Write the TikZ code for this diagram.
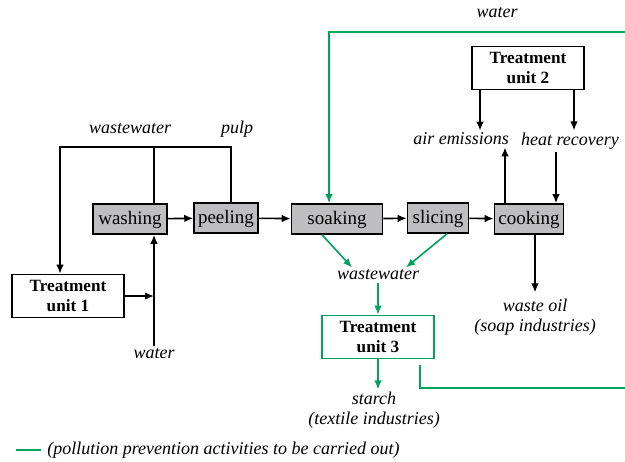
\documentclass[tikz,border=0pt]{standalone}
\usepackage{fontspec}
\setmainfont{Liberation Serif}
\usetikzlibrary{arrows.meta,positioning}
\definecolor{ppgreen}{RGB}{0,163,90}
\definecolor{boxgray}{RGB}{190,190,192}
\tikzset{>={Latex[length=4.5pt,width=3.8pt]}}
\tikzset{mybox/.style={draw, fill=boxgray, line width=0.8pt, minimum height=15pt, inner sep=2pt,
		font=\fontsize{9.5}{11}\selectfont, text height=.75em, text depth=.25em}}
\tikzset{myunit/.style={draw, fill=white, line width=0.8pt, minimum width=56pt, minimum height=21.5pt,
		align=center, inner sep=1pt, font=\fontsize{8.6}{10}\selectfont\bfseries}}
\tikzset{mylabel/.style={inner sep=1pt, align=center, font=\fontsize{9}{10}\selectfont\itshape}}
\tikzset{myline/.style={line width=0.8pt, black}}
\tikzset{mygreen/.style={line width=0.8pt, ppgreen}}

\begin{document}
\begin{tikzpicture}[x=0.5pt, y=-0.5pt]
			\useasboundingbox (0,0) rectangle (625,461);
			% process line
			\node[mybox, minimum width=37pt] (wash) at (130,219) {washing};
			\node[mybox, minimum width=31pt] (peel) at (226,218) {peeling};
			\node[mybox, minimum width=45.5pt] (soak) at (337,219) {soaking};
			\node[mybox, minimum width=30.5pt] (slic) at (438,218) {slicing};
			\node[mybox, minimum width=34.5pt] (cook) at (529,219) {cooking};
			% treatment units
			\node[myunit] (tu1) at (68,296) {Treatment\\unit 1};
			\node[myunit] (tu2) at (528,68) {Treatment\\unit 2};
			\node[myunit, draw=ppgreen] (tu3) at (378,337) {Treatment\\unit 3};
			% labels
			\node[mylabel] (ww1) at (130,129) {wastewater};
			\node[mylabel] (pulp) at (237,129) {pulp};
			\node[mylabel] (water1) at (154,354) {water};
			\node[mylabel] (water2) at (497,13) {water};
			\node[mylabel] (air) at (461,139) {air emissions};
			\node[mylabel] (heat) at (570,141) {heat recovery};
			\node[mylabel] (ww2) at (378,275) {wastewater};
			\node[mylabel] (oil) at (535,317) {waste oil\\(soap industries)};
			\node[mylabel] (starch) at (374,410) {starch\\(textile industries)};
			\node[mylabel, anchor=west] (leg) at (45,450) {(pollution prevention activities to be carried out)};
			% helper points
			\coordinate (jL) at (60,147);
			\coordinate (wx) at (154,0);
			\coordinate (ax) at (480,0);
			\coordinate (hx) at (574,0);
			\coordinate (cx1) at (505,0);
			\coordinate (cx2) at (556,0);
			\coordinate (tp) at (625,32);
			\coordinate (rt) at (625,388);
			
			\draw[myline, ->] (wash) -- (peel);
			\draw[myline, ->] (peel) -- (soak);
			\draw[myline, ->] (soak) -- (slic);
			\draw[myline, ->] (slic) -- (cook);
			\draw[myline, ->] ([xshift=2.5pt]peel.north) |- (jL) -- (jL |- tu1.north);
			\draw[myline] (wash.north -| wx) -- (wx |- jL);
			\draw[myline, ->] (water1.north -| wx) -- (wash.south -| wx);
			\draw[myline, ->] (tu1.east) -- (tu1.east -| wx);
			\draw[myline, ->] (tu2.south -| ax) -- (air.north -| ax);
			\draw[myline, ->] (tu2.south -| hx) -- (heat.north -| hx);
			\draw[myline, ->] (cook.north -| cx1) -- (air.south -| cx1);
			\draw[myline, ->] (heat.south -| cx2) -- (cook.north -| cx2);
			\draw[myline, ->] (cook.south -| oil) -- ([yshift=2pt]oil.north);
			% green flows
			\draw[mygreen, ->] (tp) -| ([xshift=-4pt]soak.north);
			\draw[mygreen, ->] ([xshift=-7.5pt]soak.south) -- ([xshift=-13pt]ww2.north);
			\draw[mygreen, ->] ([xshift=4.5pt]slic.south) -- ([xshift=14pt]ww2.north);
			\draw[mygreen, ->] (ww2.south) -- (tu3.north);
			\draw[mygreen, ->] (tu3.south) -- (tu3.south |- starch.north);
			\draw[mygreen] ([xshift=21pt,yshift=-3pt]tu3.south) |- (rt);
			\draw[mygreen] ([xshift=-2pt]leg.west) -- ++(-25,0);
			
			\end{tikzpicture}
\end{document}
